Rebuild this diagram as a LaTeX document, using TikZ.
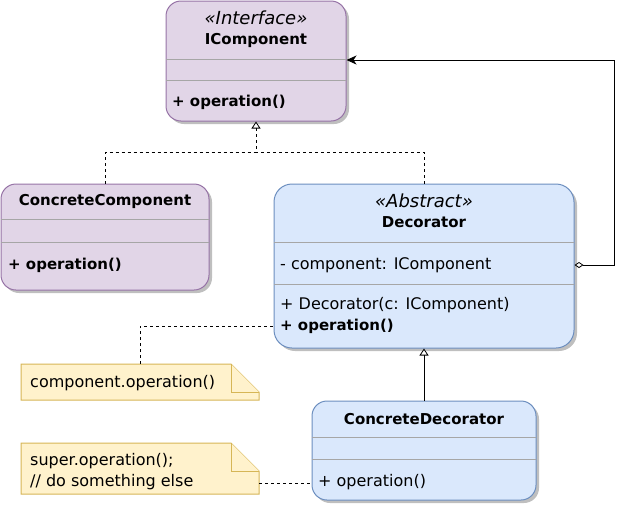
\documentclass[tikz,border=0pt]{standalone}
\usepackage{fontspec}
\setmainfont{DejaVu Sans}
\usetikzlibrary{arrows.meta,positioning,shadows}
\definecolor{purplefill}{HTML}{E1D5E7}
\definecolor{purpleline}{HTML}{9673A6}
\definecolor{bluefill}{HTML}{DAE8FC}
\definecolor{blueline}{HTML}{6C8EBF}
\definecolor{notefill}{HTML}{FFF2CC}
\definecolor{noteline}{HTML}{D6B656}
\newcommand{\umlfont}{\fontsize{16}{21}\selectfont}
\newcommand{\umlboldfont}{\fontsize{15}{21}\selectfont\bfseries}
\tikzset{%
  % Specifications for style of nodes:
       classbase/.style = {rectangle, rounded corners=15pt, line width=1pt,
                           inner sep=0pt,
                           drop shadow={shadow xshift=3pt, shadow yshift=-3pt,
                                        fill=black, opacity=0.25}},
     purpleclass/.style = {classbase, draw=purpleline, fill=purplefill},
       blueclass/.style = {classbase, draw=blueline, fill=bluefill},
         divider/.style = {draw=black!35, line width=1pt},
        notebody/.style = {draw=noteline, fill=notefill, line width=1pt},
       membertxt/.style = {anchor=west, inner sep=0pt, font=\umlfont},
         boldtxt/.style = {membertxt, font=\umlboldfont},
        titletxt/.style = {inner sep=0pt, font=\umlboldfont},
       stereotxt/.style = {inner sep=0pt, font=\fontsize{18}{21}\selectfont\itshape},
         realize/.style = {dashed, line width=0.8pt, -{Triangle[open,length=7pt,width=9pt]}},
         inherit/.style = {line width=0.8pt, -{Triangle[open,length=7pt,width=9pt]}},
       aggregate/.style = {line width=0.8pt, {Diamond[open,length=9pt,width=6pt]}-{Stealth[length=10pt,width=9pt,inset=3pt]}},
        notelink/.style = {dashed, line width=0.8pt},
}

\begin{document}
\begin{tikzpicture}[x=1pt, y=-1pt]
  \useasboundingbox (0,0) rectangle (629,507);

  % Class boxes
  \node (icomp) [purpleclass, minimum width=180pt, minimum height=120pt] at (256,61) {};
  \node (ccomp) [purpleclass, minimum width=208pt, minimum height=106pt] at (105,237) {};
  \node (deco) [blueclass, rounded corners=18pt, minimum width=300pt, minimum height=164pt] at (424,266) {};
  \node (cdeco) [blueclass, minimum width=224pt, minimum height=99pt] at (424,450.5) {};

  % IComponent
  \node (icompStereo) [stereotxt] at (256,18) {<<Interface>>};
  \node (icompTitle) [titletxt] at (256,40) {IComponent};
  \draw[divider] (166,59) -- (346,59);
  \draw[divider] (166,80) -- (346,80);
  \node (icompOp) [boldtxt] at (172,102) {+ operation()};

  % ConcreteComponent
  \node (ccompTitle) [titletxt] at (105,201) {ConcreteComponent};
  \draw[divider] (1,219) -- (209,219);
  \draw[divider] (1,242) -- (209,242);
  \node (ccompOp) [boldtxt] at (8,265) {+ operation()};

  % Decorator
  \node (decoStereo) [stereotxt] at (424,201) {<<Abstract>>};
  \node (decoTitle) [titletxt] at (424,222) {Decorator};
  \draw[divider] (274,242) -- (574,242);
  \node (decoField) [membertxt] at (280,265) {- component: IComponent};
  \draw[divider] (274,284) -- (574,284);
  \node (decoCtor) [membertxt] at (280,305) {+ Decorator(c: IComponent)};
  \node (decoOp) [boldtxt] at (280,326) {+ operation()};

  % ConcreteDecorator
  \node (cdecoTitle) [titletxt] at (424,419) {ConcreteDecorator};
  \draw[divider] (312,437) -- (536,437);
  \draw[divider] (312,459) -- (536,459);
  \node (cdecoOp) [membertxt] at (318,482) {+ operation()};

  % Notes
  \draw[notebody] (21,364) -- (231,364) -- (259,392) -- (259,400) -- (21,400) -- cycle;
  \draw[notebody] (231,364) -- (231,392) -- (259,392);
  \node (noteA) [membertxt] at (30,383) {component.operation()};
  \coordinate (noteAtop) at (140,364);

  \draw[notebody] (21,443) -- (231,443) -- (259,471) -- (259,494) -- (21,494) -- cycle;
  \draw[notebody] (231,443) -- (231,471) -- (259,471);
  \node (noteB) [membertxt, align=left] at (30,472) {super.operation();\\// do something else};
  \coordinate (noteBright) at (259,483);

  % Connectors
  \draw[realize] (ccomp.north) |- (256,152) -- (icomp.south);
  \draw[notelink] (deco.north) |- (256,152);
  \draw[inherit] (cdeco.north) -- (deco.south);
  \draw[aggregate] (deco.east |- decoField) -- (614,265) |- (icomp.east |- 0,60);
  \draw[notelink] (noteAtop) |- (deco.west |- decoOp);
  \draw[notelink] (noteBright) -- (cdeco.west |- noteBright);

\end{tikzpicture}
\end{document}
